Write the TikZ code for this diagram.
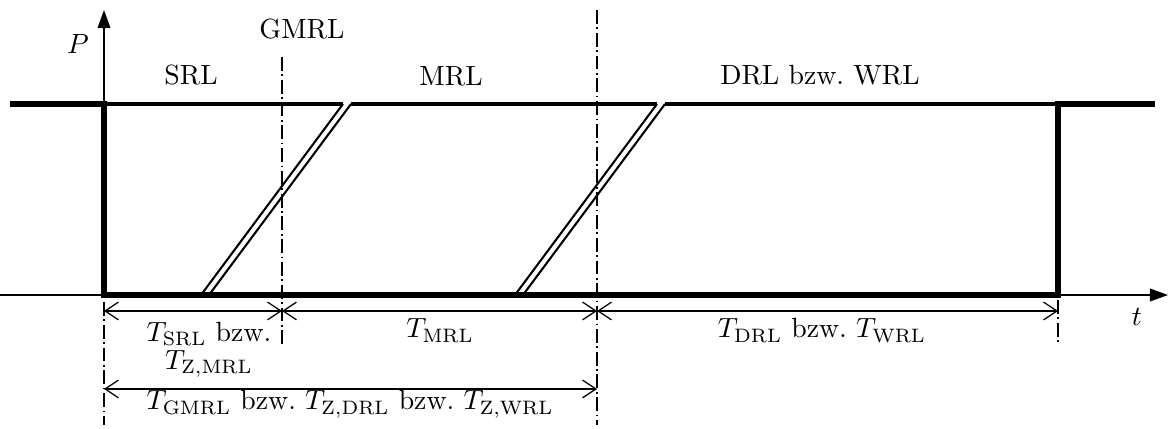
\documentclass[tikz,border=0pt]{standalone}
\usetikzlibrary{arrows.meta}
\begin{document}
\begin{tikzpicture}[x=0.36pt,y=-0.36pt,
  thickline/.style={line width=2.1pt,line join=miter},
  medline/.style={line width=1.3pt},
  slantline/.style={line width=0.75pt},
  axisline/.style={line width=0.45pt,-{Triangle[length=6.5pt,width=4.6pt]}},
  dimline/.style={line width=0.45pt,{Straight Barb[length=4.8pt,width=6.4pt]}-{Straight Barb[length=4.8pt,width=6.4pt]}},
  centerline/.style={line width=0.45pt,dash pattern=on 5pt off 1.3pt on 0.6pt off 1.3pt},
  lbl/.style={inner sep=0pt,anchor=base}]
\useasboundingbox (0,0) rectangle (1168,429);
% coordinates
\coordinate (tstart) at (0,295);
\coordinate (ttip) at (1168,295);
\coordinate (pstart) at (104,295);
\coordinate (ptip) at (104,10);
% axes
\draw[axisline] (tstart) -- (ttip);
\draw[axisline] (pstart) -- (ptip);
% centre lines
\coordinate (g1) at (282,57);   \coordinate (g2) at (282,345);
\coordinate (m1) at (597,10);   \coordinate (m2) at (597,425);
\coordinate (l1) at (104,302);  \coordinate (l2) at (104,425);
\coordinate (r1) at (1058,300); \coordinate (r2) at (1058,342);
\draw[centerline] (g1) -- (g2);
\draw[centerline] (m1) -- (m2);
\draw[centerline] (l1) -- (l2);
\draw[centerline] (r1) -- (r2);
% inner top line
\coordinate (u0) at (104,104);
\coordinate (u1) at (343,104); \coordinate (u2) at (351,104);
\coordinate (u3) at (657,104); \coordinate (u4) at (665,104);
\coordinate (u5) at (1058,104);
\draw[medline] (u0) -- (u1);
\draw[medline] (u2) -- (u3);
\draw[medline] (u4) -- (u5);
% slanted double transitions
\coordinate (s1) at (201,295); \coordinate (s2) at (209,295);
\coordinate (s3) at (515,295); \coordinate (s4) at (523,295);
\draw[slantline] (s1) -- (u1);
\draw[slantline] (s2) -- (u2);
\draw[slantline] (s3) -- (u3);
\draw[slantline] (s4) -- (u4);
% thick signal
\coordinate (k0) at (10,104);
\coordinate (k1) at (104,104);
\coordinate (k2) at (104,295);
\coordinate (k3) at (1058,295);
\coordinate (k4) at (1058,104);
\coordinate (k5) at (1155,104);
\draw[thickline] (k0) -- (k1) -- (k2) -- (k3) -- (k4) -- (k5);
% dimension arrows
\coordinate (d0) at (104,311); \coordinate (d1) at (282,311);
\coordinate (d2) at (597,311); \coordinate (d3) at (1058,311);
\coordinate (e0) at (104,389); \coordinate (e1) at (597,389);
\draw[dimline] (d0) -- (d1);
\draw[dimline] (d1) -- (d2);
\draw[dimline] (d2) -- (d3);
\draw[dimline] (e0) -- (e1);
% labels
\node[lbl] (P) at (78,54) {$P$};
\node[lbl] (t) at (1137,326) {$t$};
\node[lbl] (gmrl) at (302,39) {GMRL};
\node[lbl] (srl) at (191,85) {SRL};
\node[lbl] (mrl) at (451,86) {MRL};
\node[lbl] (drl) at (820,85) {DRL bzw.\ WRL};
\node[inner sep=0pt,anchor=north,align=center] (tsrl) at (209,322)
  {$T_{\mathrm{SRL}}$ bzw.\\[-2pt] $T_{\mathrm{Z,MRL}}$};
\node[lbl] (tmrl) at (440,338) {$T_{\mathrm{MRL}}$};
\node[lbl] (tdrl) at (822,338) {$T_{\mathrm{DRL}}$ bzw.\ $T_{\mathrm{WRL}}$};
\node[lbl] (tgmrl) at (350,410) {$T_{\mathrm{GMRL}}$ bzw.\ $T_{\mathrm{Z,DRL}}$ bzw.\ $T_{\mathrm{Z,WRL}}$};
\end{tikzpicture}
\end{document}
